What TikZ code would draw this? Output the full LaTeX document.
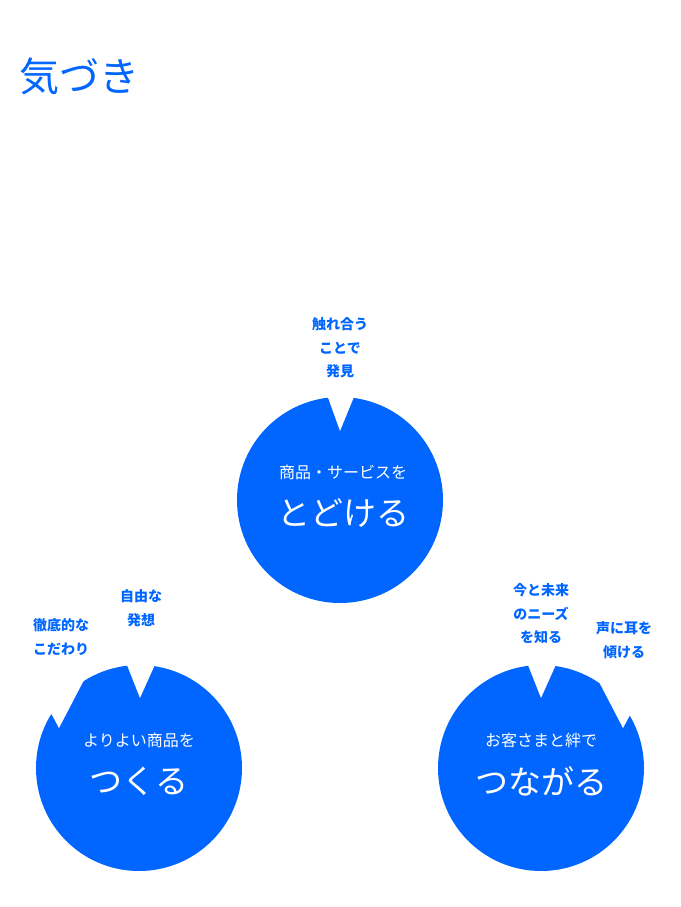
\documentclass[tikz,border=0pt]{standalone}
\usepackage{fontspec}
\newfontfamily\jp{Noto Sans CJK JP}
\usetikzlibrary{positioning}
\definecolor{kblue}{HTML}{0066FF}

\begin{document}
\begin{tikzpicture}[x=1pt, y=-1pt,
  every node/.style={font=\jp},
  ball/.style={circle, fill=kblue, minimum size=206pt, inner sep=0pt},
  cut/.style={fill=white, draw=none},
  lead/.style={text=white, font=\jp\fontsize{16}{18}\selectfont},
  verb/.style={text=white, font=\jp\fontsize{33}{36}\selectfont},
  note/.style={text=kblue, align=center, font=\jp\bfseries\fontsize{14}{23.5}\selectfont}]

  \useasboundingbox (0,0) rectangle (680,907);

  % タイトル
  \node[text=kblue, font=\jp\fontsize{40}{44}\selectfont] (title) at (79,76) {気づき};

  % 三つの円
  \node[ball] (top) at (340,500) {};
  \node[ball] (left) at (139,768) {};
  \node[ball] (right) at (541,768) {};

  % 切り込み
  \fill[cut] (326,392) -- (340,431) -- (356,392) -- cycle;
  \fill[cut] (125,660) -- (140,698) -- (157,660) -- cycle;
  \fill[cut] (526,660) -- (541,698) -- (558,660) -- cycle;
  \fill[cut] (30,690) -- (52,715) -- (59,728) -- (84,680) -- (70,650) -- cycle;
  \fill[cut] (652,690) -- (630,715) -- (623,728) -- (598,680) -- (612,650) -- cycle;

  % 円の中の文字
  \node[lead] (topA) at (343,472) {商品・サービスを};
  \node[verb] (topB) at (343,513) {とどける};
  \node[lead] (leftA) at (139,740) {よりよい商品を};
  \node[verb] (leftB) at (139,781) {つくる};
  \node[lead] (rightA) at (541,740) {お客さまと絆で};
  \node[verb] (rightB) at (541,781) {つながる};

  % 周りの言葉
  \node[note] (n1) at (340,348) {触れ合う\\ことで\\発見};
  \node[note] (n2) at (141,608) {自由な\\発想};
  \node[note] (n3) at (61,637) {徹底的な\\こだわり};
  \node[note] (n4) at (541,614) {今と未来\\のニーズ\\を知る};
  \node[note] (n5) at (624,640) {声に耳を\\傾ける};

\end{tikzpicture}
\end{document}
